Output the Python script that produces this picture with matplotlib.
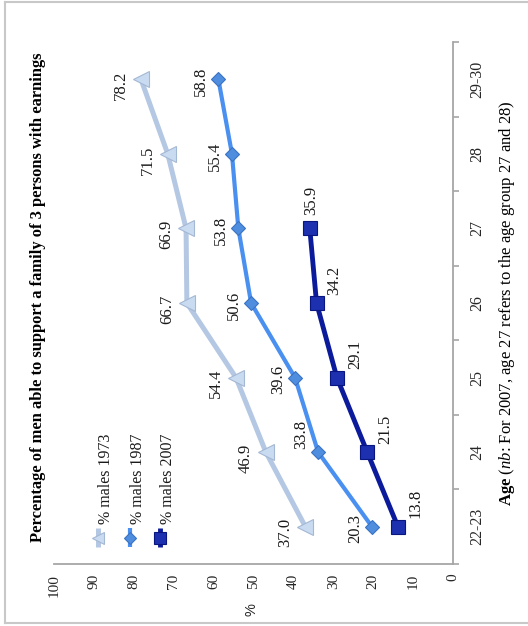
import matplotlib
matplotlib.use("Agg")
import matplotlib.pyplot as plt
from matplotlib.lines import Line2D
import numpy as np

# ---------------- data ----------------
ages = ["22-23", "24", "25", "26", "27", "28", "29-30"]
males_1973 = [37.0, 46.9, 54.4, 66.7, 66.9, 71.5, 78.2]
males_1987 = [20.3, 33.8, 39.6, 50.6, 53.8, 55.4, 58.8]
males_2007 = [13.8, 21.5, 29.1, 34.2, 35.9]
series_labels = ["% males 1973", "% males 1987", "% males 2007"]
pct_ticks = [0, 10, 20, 30, 40, 50, 60, 70, 80, 90, 100]
title = "Percentage of men able to support a family of 3 persons with earnings"
age_label = r"$\mathbf{Age}$ ($\mathit{nb}$: For 2007, age 27 refers to the age group 27 and 28)"

# ---------------- style ----------------
W, H = 528, 626
plt.rcParams['font.family'] = ['Liberation Serif', 'DejaVu Serif']
plt.rcParams['mathtext.fontset'] = 'custom'
plt.rcParams['mathtext.rm'] = 'Liberation Serif'
plt.rcParams['mathtext.it'] = 'Liberation Serif:italic'
plt.rcParams['mathtext.bf'] = 'Liberation Serif:bold'

def fx(px):
    return px / W

def fy(py):
    return 1 - py / H

styles = [
    dict(color='#B4C8E4', marker='<', mfc='#C9DBF1', mec='#A4B8D4', lw=3.6, ms=11),
    dict(color='#4A90F0', marker='D', mfc='#4F8EDF', mec='#3A72C4', lw=3.0, ms=7.5),
    dict(color='#0B1B9B', marker='s', mfc='#1D31B0', mec='#0A1680', lw=3.5, ms=10.5),
]
# label offsets in pixels (dx right, dy up)
label_offsets = [(-20, -6), (-17, -2), (18, 23)]
label_nudge = {(1, 1): (0, 20), (2, 4): (-17, 5)}

fig = plt.figure(figsize=(W / 100, H / 100), dpi=100)
ax = fig.add_axes([fx(54), 62 / H, 399 / W, 522 / H])

all_series = [males_1973, males_1987, males_2007]
for si, (vals, st) in enumerate(zip(all_series, styles)):
    idx = np.arange(len(vals))
    ax.plot(vals, idx, color=st['color'], lw=st['lw'], marker=st['marker'],
            markersize=st['ms'], markerfacecolor=st['mfc'], markeredgecolor=st['mec'],
            markeredgewidth=0.8, solid_capstyle='butt', zorder=3)
    dx, dy = label_offsets[si]
    for i, v in enumerate(vals):
        ndx, ndy = label_nudge.get((si, i), (0, 0))
        ax.annotate(f"{v:.1f}", xy=(v, i), xytext=((dx + ndx) * 0.72, (dy + ndy) * 0.72),
                    textcoords='offset points', rotation=90, ha='center', va='center',
                    fontsize=12, color='#1a1a1a', zorder=4)

ax.set_xlim(100, 0)
ax.set_ylim(-0.5, len(ages) - 0.5)
ax.set_xticks(pct_ticks)
ax.set_xticklabels([str(t) for t in pct_ticks], rotation=90, fontsize=11, color='#262626')
ax.tick_params(axis='x', length=0, pad=7)

ax.yaxis.tick_right()
ax.set_yticks(np.arange(len(ages)))
ax.set_yticklabels(ages, rotation=90, va='center', fontsize=11.5, color='#262626')
ax.set_yticks(np.arange(-0.5, len(ages), 1.0), minor=True)
ax.tick_params(axis='y', which='major', length=0, pad=12)
ax.tick_params(axis='y', which='minor', length=4, width=1.2, color='#A6A6A6', direction='out')

for s in ['top', 'left']:
    ax.spines[s].set_visible(False)
for s in ['bottom', 'right']:
    ax.spines[s].set_color('#A6A6A6')
    ax.spines[s].set_linewidth(1.3)

# title and axis labels
fig.text(fx(38), fy(297), title, rotation=90, ha='center', va='center',
         fontsize=11.9, fontweight='bold', color='#000000')
fig.text(fx(507), fy(303), age_label, rotation=90, ha='center', va='center',
         fontsize=12, color='#000000')
fig.text(fx(252), fy(610), "%", rotation=90, ha='center', va='center',
         fontsize=10.5, color='#262626', family=['Liberation Sans', 'DejaVu Sans'])

# legend (rotated, drawn manually)
leg_x = [98, 130, 160]
for k, (lab, st) in enumerate(zip(series_labels, styles)):
    x = fx(leg_x[k])
    fig.add_artist(Line2D([x, x], [fy(528), fy(547)], transform=fig.transFigure,
                          color=st['color'], lw=st['lw'], solid_capstyle='butt'))
    fig.add_artist(Line2D([x], [fy(537.5)], transform=fig.transFigure, marker=st['marker'],
                          markersize=st['ms'] * 0.78, markerfacecolor=st['mfc'],
                          markeredgecolor=st['mec'], markeredgewidth=0.8, linestyle='none'))
    fig.text(fx(leg_x[k] + 12), fy(524), lab, rotation=90, rotation_mode='anchor',
             ha='left', va='baseline', fontsize=11.5, color='#1a1a1a')

# outer frame
frame_c = '#C8C8C8'
fig.add_artist(Line2D([fx(5), fx(528)], [fy(1.5), fy(1.5)], transform=fig.transFigure, color=frame_c, lw=1.5))
fig.add_artist(Line2D([fx(5), fx(5)], [fy(1.5), fy(623)], transform=fig.transFigure, color=frame_c, lw=1.5))
fig.add_artist(Line2D([fx(5), fx(528)], [fy(623), fy(623)], transform=fig.transFigure, color=frame_c, lw=1.5))

fig.savefig("out.png", dpi=100, facecolor='white')
